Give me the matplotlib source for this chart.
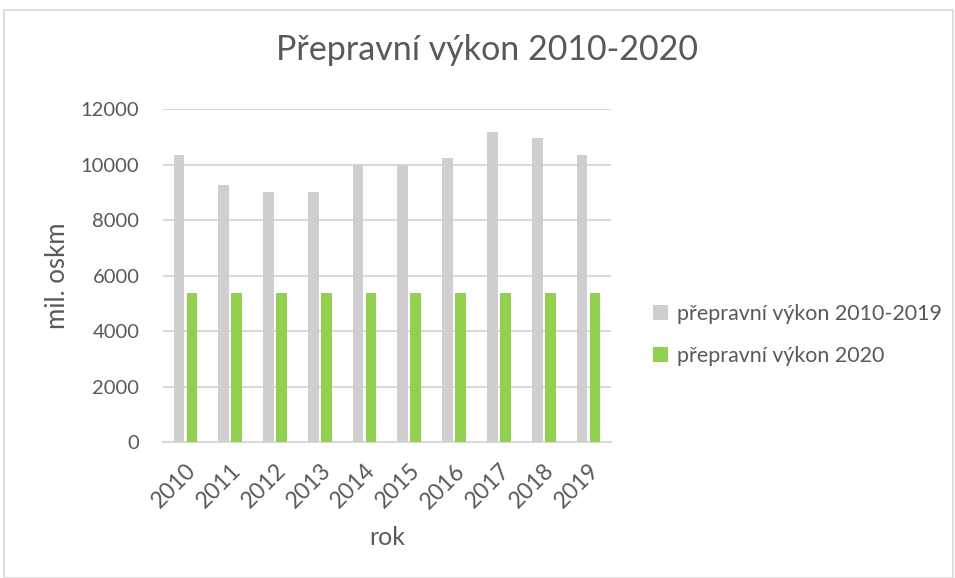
import matplotlib.pyplot as plt
import numpy as np
from matplotlib.patches import Rectangle

# data
years = ['2010', '2011', '2012', '2013', '2014', '2015', '2016', '2017', '2018', '2019']
vykon_2010_2019 = [10340, 9260, 9020, 9020, 10000, 9980, 10240, 11170, 10950, 10340]
vykon_2020 = [5360, 5360, 5360, 5360, 5360, 5360, 5360, 5360, 5360, 5360]

plt.rcParams['font.family'] = ['Lato', 'DejaVu Sans']
text_col = '#595959'

fig = plt.figure(figsize=(9.55, 5.78), dpi=100)
ax = fig.add_axes([0.1707, 0.2353, 0.469, 0.576])

# chart border
fig.patches.append(Rectangle((4 / 955, 0.0), 1 - 4 / 955 - 0.002, 1 - 10 / 578, transform=fig.transFigure,
                             fill=False, edgecolor='#d9d9d9', linewidth=1.2))

x = np.arange(len(years))
w = 0.24
ax.bar(x - 0.145, vykon_2010_2019, w, color='#d0cece', label='přepravní výkon 2010-2019', zorder=3)
ax.bar(x + 0.145, vykon_2020, w, color='#92d050', label='přepravní výkon 2020', zorder=3)

ax.set_xlim(-0.5, 9.5)
ax.set_ylim(0, 12000)
ax.set_yticks(range(0, 12001, 2000))
ax.set_xticks(x)
ax.set_xticklabels(years, rotation=45, ha='right', rotation_mode='anchor')

ax.grid(axis='y', color='#d9d9d9', linewidth=1.5, zorder=0)
for s in ['top', 'right', 'left']:
    ax.spines[s].set_visible(False)
ax.spines['bottom'].set_color('#d9d9d9')
ax.spines['bottom'].set_linewidth(1.5)
ax.tick_params(axis='both', length=0, labelcolor=text_col)
ax.tick_params(axis='y', pad=17, labelsize=14.5)
ax.tick_params(axis='x', pad=13, labelsize=16.5)

fig.text(0.51, 0.913, 'Přepravní výkon 2010-2020', fontsize=24.5, color=text_col, ha='center', va='center')
ax.set_xlabel('rok', fontsize=18, color=text_col, labelpad=10)
ax.set_ylabel('mil. oskm', fontsize=18.5, color=text_col, labelpad=8)

fig.legend(loc='center left', bbox_to_anchor=(0.664, 0.42), frameon=False, fontsize=15.4,
           labelcolor=text_col, handlelength=0.7, handleheight=0.7, handletextpad=0.4,
           labelspacing=1.05)

plt.savefig('out.png', dpi=100)
